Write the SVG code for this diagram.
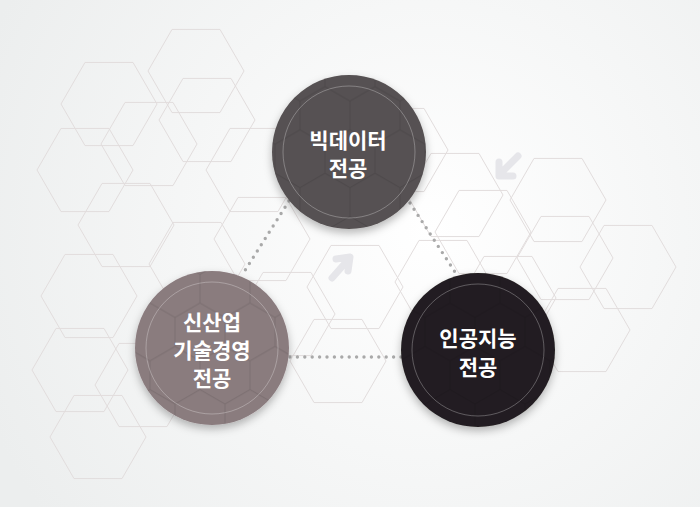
<svg xmlns="http://www.w3.org/2000/svg" xmlns:xlink="http://www.w3.org/1999/xlink" width="700" height="507" viewBox="0 0 700 507">
  <defs>
    <radialGradient id="bg" cx="430" cy="230" r="480" gradientUnits="userSpaceOnUse">
      <stop offset="0" stop-color="#ffffff"/>
      <stop offset="1" stop-color="#eceeee"/>
    </radialGradient>
    <polygon id="hex" points="48,0 24,41.57 -24,41.57 -48,0 -24,-41.57 24,-41.57"/>
    <pattern id="hexpat" width="50" height="86.6" patternUnits="userSpaceOnUse" x="0" y="0">
      <path d="M25,0 L50,14.43 L50,43.3 L25,57.74 L0,43.3 L0,14.43 Z M25,57.74 L25,86.6" fill="none" stroke="#000" stroke-opacity="0.10" stroke-width="1"/>
    </pattern>
    <filter id="shadow" x="-30%" y="-30%" width="160%" height="160%">
      <feDropShadow dx="0" dy="4" stdDeviation="4" flood-color="#000" flood-opacity="0.28"/>
    </filter>
    <style>
      .hx { fill: none; stroke: #e2dddd; stroke-width: 1; }
      .dots { fill: none; stroke: #a9a9a9; stroke-width: 3.4; stroke-linecap: round; stroke-dasharray: 0 7.4; }
      .arrow { fill: none; stroke: #e6e6ea; stroke-width: 7; stroke-linecap: round; stroke-linejoin: round; }
      .ring { fill: none; stroke: #ffffff; stroke-opacity: 0.28; stroke-width: 1; }
      .label { font-family: "Noto Sans CJK KR", "Noto Sans", sans-serif; font-weight: bold; font-size: 21px; fill: #ffffff; text-anchor: middle; }
    </style>
  </defs>

  <rect x="0" y="0" width="700" height="507" fill="url(#bg)"/>

  <g id="background-hexagons">
    <use xlink:href="#hex" class="hx" x="196" y="71"/>
    <use xlink:href="#hex" class="hx" x="109" y="104"/>
    <use xlink:href="#hex" class="hx" x="207" y="120"/>
    <use xlink:href="#hex" class="hx" x="149" y="144"/>
    <use xlink:href="#hex" class="hx" x="85" y="170"/>
    <use xlink:href="#hex" class="hx" x="126" y="225"/>
    <use xlink:href="#hex" class="hx" x="254" y="170"/>
    <use xlink:href="#hex" class="hx" x="262" y="239"/>
    <use xlink:href="#hex" class="hx" x="197" y="264"/>
    <use xlink:href="#hex" class="hx" x="89" y="296"/>
    <use xlink:href="#hex" class="hx" x="80" y="370"/>
    <use xlink:href="#hex" class="hx" x="143" y="385"/>
    <use xlink:href="#hex" class="hx" x="98" y="437"/>
    <use xlink:href="#hex" class="hx" x="287" y="314"/>
    <use xlink:href="#hex" class="hx" x="338" y="361"/>
    <use xlink:href="#hex" class="hx" x="355" y="287"/>
    <use xlink:href="#hex" class="hx" x="400" y="150"/>
    <use xlink:href="#hex" class="hx" x="455" y="195"/>
    <use xlink:href="#hex" class="hx" x="483" y="232"/>
    <use xlink:href="#hex" class="hx" x="443" y="282"/>
    <use xlink:href="#hex" class="hx" x="508" y="298"/>
    <use xlink:href="#hex" class="hx" x="558" y="200"/>
    <use xlink:href="#hex" class="hx" x="565" y="258"/>
    <use xlink:href="#hex" class="hx" x="628" y="267"/>
    <use xlink:href="#hex" class="hx" x="582" y="330"/>
  </g>

  <g id="arrows">
    <path class="arrow" d="M332,278 L347,261 M336,259 L350,257 L348,271"/>
    <path class="arrow" d="M518,156 L502,172 M499,162 L499,176 L513,176"/>
  </g>

  <g id="connectors">
    <path class="dots" d="M289,201 L244,272"/>
    <path class="dots" d="M410,203 L455,272"/>
    <path class="dots" d="M290,357 L402,357"/>
  </g>

  <g id="node-bigdata">
    <circle cx="349" cy="152" r="77" fill="#565152" filter="url(#shadow)"/>
    <circle cx="349" cy="152" r="77" fill="url(#hexpat)"/>
    <circle class="ring" cx="349" cy="152" r="66"/>
    <text class="label" x="348" y="148">빅데이터</text>
    <text class="label" x="348" y="176">전공</text>
  </g>

  <g id="node-newindustry">
    <circle cx="212" cy="348" r="77" fill="#8a7b7e" filter="url(#shadow)"/>
    <circle cx="212" cy="348" r="77" fill="url(#hexpat)"/>
    <circle class="ring" cx="212" cy="348" r="66"/>
    <text class="label" x="212" y="330">신산업</text>
    <text class="label" x="212" y="358">기술경영</text>
    <text class="label" x="212" y="386">전공</text>
  </g>

  <g id="node-ai">
    <circle cx="478" cy="350" r="77" fill="#231f20" filter="url(#shadow)"/>
    <circle cx="478" cy="350" r="77" fill="url(#hexpat)"/>
    <circle class="ring" cx="478" cy="350" r="66"/>
    <text class="label" x="478" y="346">인공지능</text>
    <text class="label" x="478" y="375">전공</text>
  </g>
</svg>
